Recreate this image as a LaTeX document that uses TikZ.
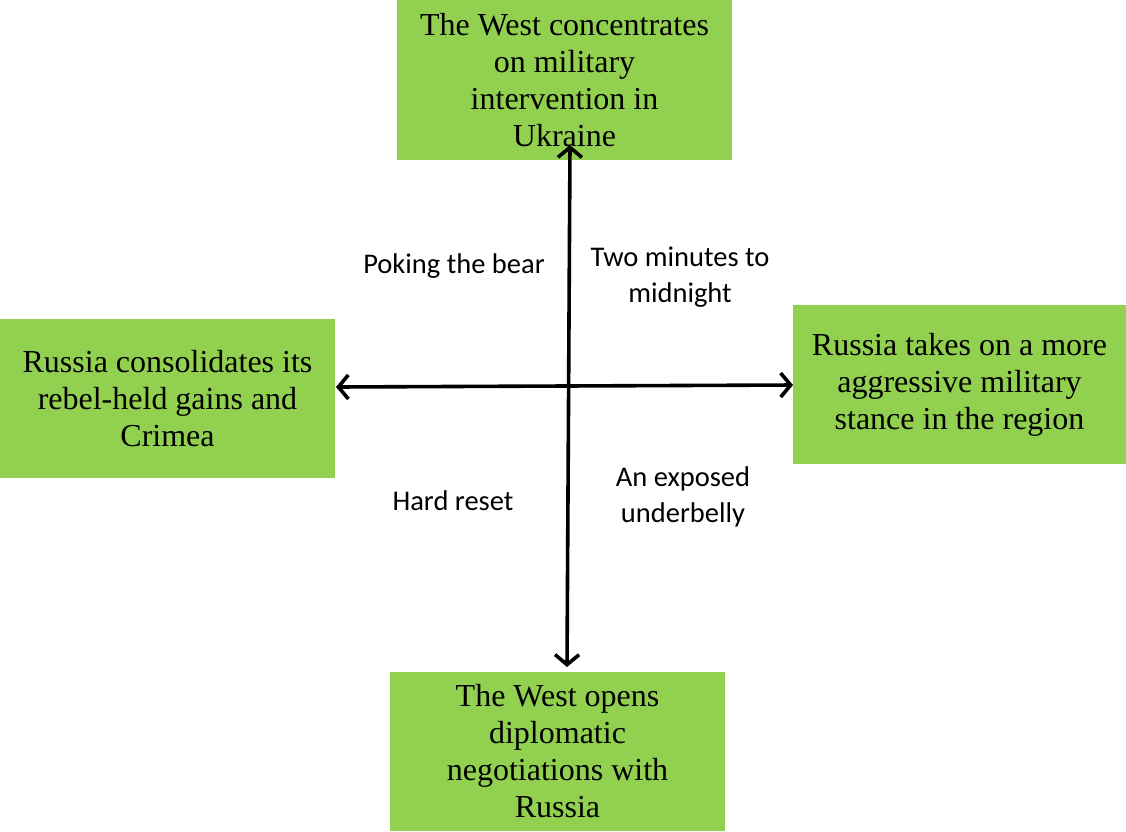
\documentclass[tikz,border=0pt]{standalone}
\usepackage{fontspec}
\setmainfont{Liberation Serif}
\newfontfamily\labelfont{Carlito}
\usepackage{xcolor}
\definecolor{officegreen}{HTML}{92D050}
\usepackage{tikz}
\usetikzlibrary{arrows.meta}

\begin{document}
\begin{tikzpicture}[x=1pt,y=-1pt,
box/.style={fill=officegreen,minimum width=335pt,minimum height=159pt,align=center,
  font=\fontsize{32}{37}\selectfont,inner sep=0pt},
lbl/.style={align=center,font=\labelfont\fontsize{28.5}{36}\selectfont},
axis/.style={line width=3.6pt,{Straight Barb[length=10pt,width=24pt]}-{Straight Barb[length=10pt,width=24pt]}}]
\useasboundingbox (0,0) rectangle (1126,831);
\node (west) [box,minimum height=160pt] at (564.5,80) {The West concentrates \\ on military \\ intervention in \\ Ukraine};
\node (russia) [box] at (167.5,398.5) {Russia consolidates its \\ rebel-held gains and \\ Crimea};
\node (stance) [box,minimum width=333pt] at (959.5,384.5) {Russia takes on a more \\ aggressive military \\ stance in the region};
\node (talks) [box] at (557.5,751.5) {The West opens \\ diplomatic \\ negotiations with \\ Russia};
\coordinate (up) at (570,145);
\coordinate (down) at (567,667);
\coordinate (left) at (336,387);
\coordinate (right) at (793,385);
\draw [axis] (down) -- (up);
\draw [axis] (left) -- (right);
\node (poke) [lbl] at (454,266) {Poking the bear};
\node (midnight) [lbl] at (680,277) {Two minutes to \\ midnight};
\node (reset) [lbl] at (453,501) {Hard reset};
\node (belly) [lbl] at (683,497) {An exposed \\ underbelly};
\end{tikzpicture}
\end{document}
